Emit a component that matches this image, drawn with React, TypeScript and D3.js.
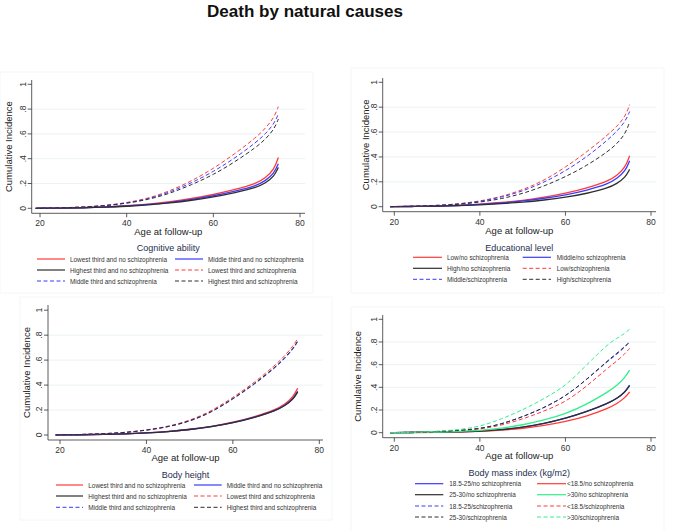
import React from 'react';
import * as d3 from 'd3';

const W = 673;
const H = 531;
const font = '"Liberation Sans", Arial, sans-serif';

const ages = [19, 25, 30, 35, 40, 45, 50, 55, 60, 65, 70, 72, 74, 75];
const xTicks = [20, 40, 60, 80];
const yTicks = [0, 0.2, 0.4, 0.6, 0.8, 1];
const yTickLabels = ['0', '.2', '.4', '.6', '.8', '1'];

// cognitive ability
const cognitiveLabels = [
  'Lowest third and no schizophrenia', 'Middle third and no schizophrenia',
  'Highest third and no schizophrenia', 'Lowest third and schizophrenia',
  'Middle third and schizophrenia', 'Highest third and schizophrenia',
];
const cognitiveValues = [
  [0, .002, .005, .01, .02, .033, .052, .078, .11, .15, .2, .245, .31, .41],
  [0, .002, .004, .009, .018, .03, .047, .07, .10, .137, .182, .222, .28, .36],
  [0, .002, .004, .008, .016, .027, .043, .064, .09, .125, .167, .203, .256, .33],
  [0, .004, .01, .022, .045, .08, .14, .22, .32, .44, .575, .645, .73, .82],
  [0, .004, .01, .021, .042, .075, .13, .205, .295, .405, .535, .6, .68, .76],
  [0, .004, .009, .02, .04, .07, .12, .19, .27, .375, .495, .557, .635, .72],
];

// educational level
const educationLabels = [
  'Low/no schizophrenia', 'Middle/no schizophrenia', 'High/no schizophrenia',
  'Low/schizophrenia', 'Middle/schizophrenia', 'High/schizophrenia',
];
const educationValues = [
  [0, .002, .005, .01, .02, .033, .05, .075, .107, .15, .205, .25, .315, .41],
  [0, .002, .004, .009, .018, .029, .045, .067, .094, .132, .183, .225, .285, .37],
  [0, .002, .004, .008, .015, .024, .036, .053, .075, .106, .15, .185, .235, .30],
  [0, .004, .01, .022, .045, .08, .135, .21, .317, .44, .58, .645, .725, .82],
  [0, .004, .01, .021, .042, .075, .125, .195, .287, .40, .54, .605, .685, .765],
  [0, .004, .009, .018, .036, .063, .105, .165, .24, .33, .445, .505, .585, .68],
];

// body height
const heightLabels = cognitiveLabels;
const heightValues = [
  [0, .002, .004, .009, .017, .028, .045, .068, .1, .145, .205, .245, .305, .375],
  [0, .002, .004, .008, .016, .027, .043, .066, .097, .14, .197, .235, .29, .35],
  [0, .002, .004, .008, .016, .027, .043, .066, .097, .14, .196, .233, .287, .345],
  [0, .004, .01, .02, .04, .068, .115, .19, .30, .42, .565, .635, .715, .775],
  [0, .004, .01, .019, .038, .064, .108, .18, .287, .405, .545, .612, .69, .748],
  [0, .004, .01, .019, .038, .065, .11, .182, .29, .41, .55, .618, .697, .755],
];

// body mass index
const bmiLabels = [
  '18.5-25/no schizophrenia', '<18.5/no schizophrenia',
  '25-30/no schizophrenia', '>30/no schizophrenia',
  '18.5-25/schizophrenia', '<18.5/schizophrenia',
  '25-30/schizophrenia', '>30/schizophrenia',
];
const bmiValues = [
  [0, .002, .004, .008, .013, .026, .047, .08, .126, .185, .26, .3, .36, .42],
  [0, .002, .003, .006, .011, .021, .038, .063, .097, .145, .215, .255, .31, .36],
  [0, .002, .004, .008, .013, .026, .047, .08, .126, .185, .26, .3, .36, .415],
  [0, .002, .005, .01, .018, .038, .068, .11, .165, .25, .36, .415, .49, .553],
  [0, .004, .01, .02, .035, .075, .14, .22, .32, .47, .635, .69, .76, .80],
  [0, .004, .009, .018, .03, .065, .12, .19, .27, .41, .575, .63, .70, .744],
  [0, .004, .01, .02, .035, .075, .14, .22, .32, .47, .64, .70, .765, .80],
  [0, .005, .012, .026, .053, .12, .2, .3, .41, .6, .785, .83, .88, .912],
];

const RED = '#ff3a3a';
const BLUE = '#3a3aff';
const BLACK = '#2e2e2e';
const GREEN = '#2ef08c';
const thirdsStyles = [
  {c: RED, dash: false}, {c: BLUE, dash: false}, {c: BLACK, dash: false},
  {c: RED, dash: true}, {c: BLUE, dash: true}, {c: BLACK, dash: true},
];
const bmiStyles = [
  {c: BLUE, dash: false}, {c: RED, dash: false}, {c: BLACK, dash: false}, {c: GREEN, dash: false},
  {c: BLUE, dash: true}, {c: RED, dash: true}, {c: BLACK, dash: true}, {c: GREEN, dash: true},
];

const panels = [
  {
    title: 'Cognitive ability', labels: cognitiveLabels, values: cognitiveValues, styles: thirdsStyles,
    frame: [0, 72, 313, 293],
    x20: 40, x80: 300, y0: 208.3, y1: 84.3, left: 31.7, right: 305, axisY: 213.3, top: 80,
    yLabelX: 8, xLabelY: 231, legTitleY: 248, rows: [259, 270, 281],
    cols: [[37, 65, 70], [175, 203, 208]],
  },
  {
    title: 'Educational level', labels: educationLabels, values: educationValues, styles: thirdsStyles,
    frame: [351, 68, 664, 293],
    x20: 394.3, x80: 651, y0: 206.7, y1: 82.3, left: 382.7, right: 656, axisY: 211.7, top: 78,
    yLabelX: 365.3, xLabelY: 230, legTitleY: 247.7, rows: [257.3, 268.3, 279.3],
    cols: [[413, 442, 447], [522.7, 551, 556.7]],
  },
  {
    title: 'Body height', labels: heightLabels, values: heightValues, styles: thirdsStyles,
    frame: [20, 297, 332, 520],
    x20: 60, x80: 319.3, y0: 435, y1: 310.2, left: 48, right: 323, axisY: 440, top: 305,
    yLabelX: 26.7, xLabelY: 457.7, legTitleY: 475, rows: [485, 496, 507.3],
    cols: [[56, 83, 88.3], [194, 221.7, 226.7]],
  },
  {
    title: 'Body mass index (kg/m2)', labels: bmiLabels, values: bmiValues, styles: bmiStyles,
    frame: [351, 307, 664, 540],
    x20: 394.3, x80: 651, y0: 432.7, y1: 319.3, left: 382.7, right: 656, axisY: 437.7, top: 315,
    yLabelX: 357.7, xLabelY: 455.7, legTitleY: 473.3, rows: [483.7, 494.7, 506, 517],
    cols: [[415, 443.3, 449.3], [537, 566, 567]],
  },
];

type PanelDef = typeof panels[number];

const Panel = ({p}: {p: PanelDef}) => {
  const x = d3.scaleLinear().domain([20, 80]).range([p.x20, p.x80]);
  const y = d3.scaleLinear().domain([0, 1]).range([p.y0, p.y1]);
  const line = d3
    .line<number>()
    .x((_, i) => x(ages[i]))
    .y(d => y(d))
    .curve(d3.curveBasis);
  const cx = (p.left + p.right) / 2;
  const cy = (p.top + p.axisY) / 2;
  const [fx1, fy1, fx2, fy2] = p.frame;

  return (
    <g>
      <rect x={fx1} y={fy1} width={fx2 - fx1} height={fy2 - fy1} fill="none" stroke="#f3f7f8" />
      {yTicks.slice(1, -1).map(t => (
        <line key={t} x1={p.left} x2={p.right} y1={y(t)} y2={y(t)} stroke="#e6eff1" strokeWidth={0.8} />
      ))}
      {p.values.map((vals, i) => (
        <path
          key={i}
          d={line(vals) || ''}
          fill="none"
          stroke={p.styles[i].c}
          strokeWidth={p.styles[i].dash ? 1 : 1.3}
          strokeDasharray={p.styles[i].dash ? '4,2.5' : undefined}
        />
      ))}
      {/* axes */}
      <line x1={p.left} x2={p.left} y1={p.top} y2={p.axisY} stroke="#333" strokeWidth={0.8} />
      <line x1={p.left} x2={p.right} y1={p.axisY} y2={p.axisY} stroke="#333" strokeWidth={0.8} />
      {yTicks.map((t, i) => (
        <g key={t}>
          <line x1={p.left - 4} x2={p.left} y1={y(t)} y2={y(t)} stroke="#333" strokeWidth={0.8} />
          <text
            transform={`translate(${p.left - 9},${y(t)}) rotate(-90)`}
            textAnchor="middle"
            dominantBaseline="central"
            fontSize={8.5}
            fill="#333"
          >
            {yTickLabels[i]}
          </text>
        </g>
      ))}
      {xTicks.map(t => (
        <g key={t}>
          <line x1={x(t)} x2={x(t)} y1={p.axisY} y2={p.axisY + 4} stroke="#333" strokeWidth={0.8} />
          <text x={x(t)} y={p.axisY + 10} textAnchor="middle" dominantBaseline="central" fontSize={8.5} fill="#333">
            {t}
          </text>
        </g>
      ))}
      <text x={cx} y={p.xLabelY} textAnchor="middle" dominantBaseline="central" fontSize={9.5} fill="#222">
        Age at follow-up
      </text>
      <text
        transform={`translate(${p.yLabelX},${cy}) rotate(-90)`}
        textAnchor="middle"
        dominantBaseline="central"
        fontSize={9.5}
        fill="#222"
      >
        Cumulative Incidence
      </text>
      {/* legend */}
      <text x={cx} y={p.legTitleY} textAnchor="middle" dominantBaseline="central" fontSize={9} fill="#1e2f4f">
        {p.title}
      </text>
      {p.labels.map((lab, i) => {
        const [lx1, lx2, tx] = p.cols[i % 2];
        const ry = p.rows[Math.floor(i / 2)];
        const s = p.styles[i];
        return (
          <g key={lab}>
            <line
              x1={lx1}
              x2={lx2}
              y1={ry}
              y2={ry}
              stroke={s.c}
              strokeWidth={s.dash ? 1 : 1.2}
              strokeDasharray={s.dash ? '4,2.5' : undefined}
            />
            <text x={tx} y={ry} dominantBaseline="central" fontSize={6.4} fill="#333">
              {lab}
            </text>
          </g>
        );
      })}
    </g>
  );
};

export default function App() {
  return (
    <svg
      width={W}
      height={H}
      style={{position: 'absolute', left: 0, top: 0, background: '#fff'}}
      fontFamily={font}
    >
      <rect width={W} height={H} fill="#fff" />
      <text
        x={207}
        y={17}
        fontSize={17}
        fontWeight="bold"
        textLength={196}
        lengthAdjust="spacingAndGlyphs"
        fill="#111"
      >
        Death by natural causes
      </text>
      {panels.map(p => (
        <Panel key={p.title} p={p} />
      ))}
    </svg>
  );
}
